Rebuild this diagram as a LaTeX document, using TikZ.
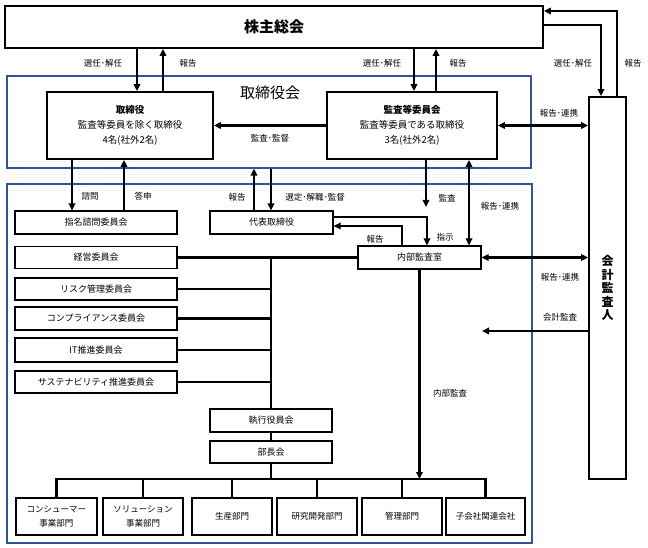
\documentclass[tikz,border=0pt]{standalone}
\usepackage{fontspec}
\setmainfont{Noto Sans CJK JP}
\usepackage{xcolor}
\usetikzlibrary{arrows.meta}
\definecolor{frameblue}{RGB}{47,85,151}

\begin{document}
\begin{tikzpicture}[x=1pt, y=-1pt,
    box/.style={draw, fill=white, line width=1.1pt, inner sep=0pt, align=center, font=\fontsize{9}{11}\selectfont},
    mainbox/.style={box, line width=1.8pt},
    dept/.style={box, minimum width=80pt, minimum height=37pt, font=\fontsize{8.5}{14}\selectfont},
    frame/.style={draw=frameblue, line width=1.2pt, inner sep=0pt},
    lbl/.style={font=\fontsize{8.5}{10}\selectfont, inner sep=1pt},
    arr/.style={line width=2.2pt, -{Triangle[length=7pt,width=6.5pt]}},
    dbl/.style={line width=2.2pt, {Triangle[length=7pt,width=6.5pt]}-{Triangle[length=7pt,width=6.5pt]}},
    wire/.style={line width=2.2pt}
]
    \useasboundingbox (0,0) rectangle (648,548);

    % Blue frames
    \node[frame, minimum width=524pt, minimum height=92pt] (board) at (269,122) {};
    \node[font=\fontsize{15}{18}\selectfont] (boardtitle) at (270,93) {取締役会};
    \node[frame, minimum width=525pt, minimum height=359pt] (exec) at (269.5,363.5) {};

    % Shareholders meeting
    \node[mainbox, minimum width=538pt, minimum height=42pt, font=\bfseries\fontsize{15}{18}\selectfont] (kabu) at (274,27) {株主総会};

    % Directors
    \node[mainbox, minimum width=166pt, minimum height=67pt, font=\fontsize{9.5}{15}\selectfont] (tori) at (130,125.5) {\textbf{取締役}\\監査等委員を除く取締役\\4名(社外2名)};

    % Audit committee
    \node[mainbox, minimum width=170pt, minimum height=67pt, font=\fontsize{9.5}{15}\selectfont] (kansa) at (412,125.5) {\textbf{監査等委員会}\\監査等委員である取締役\\3名(社外2名)};

    % Accounting auditor
    \node[mainbox, minimum width=37pt, minimum height=382pt, font=\bfseries\fontsize{12}{13.5}\selectfont] (kaikei) at (607.5,288) {会\\計\\監\\査\\人};

    % Committees
    \node[box, minimum width=162pt, minimum height=23pt] (shimei) at (96,222.5) {指名諮問委員会};
    \node[box, minimum width=162pt, minimum height=22pt] (keiei) at (96,257.5) {経営委員会};
    \node[box, minimum width=162pt, minimum height=22pt] (risk) at (96,289) {リスク管理委員会};
    \node[box, minimum width=162pt, minimum height=23pt] (comp) at (96,318.5) {コンプライアンス委員会};
    \node[box, minimum width=162pt, minimum height=24pt] (itc) at (96,350) {IT推進委員会};
    \node[box, minimum width=162pt, minimum height=22pt] (sust) at (96,382) {サステナビリティ推進委員会};

    % Representative director and internal audit
    \node[box, minimum width=123pt, minimum height=23pt] (daihyo) at (271.5,222.5) {代表取締役};
    \node[box, minimum width=123pt, minimum height=23pt] (naibu) at (419.5,257.5) {内部監査室};

    % Executive officers
    \node[box, minimum width=122pt, minimum height=23pt] (shikko) at (271,420.5) {執行役員会};
    \node[box, minimum width=122pt, minimum height=22pt] (bucho) at (271,452) {部長会};

    % Divisions
    \node[dept, minimum width=81pt] (cons) at (56.5,516.5) {コンシューマー\\事業部門};
    \node[dept] (solu) at (143,516.5) {ソリューション\\事業部門};
    \node[dept] (prod) at (232,516.5) {生産部門};
    \node[dept] (rnd) at (317,516.5) {研究開発部門};
    \node[dept] (kanri) at (402,516.5) {管理部門};
    \node[dept, minimum width=79pt] (subs) at (485.5,516.5) {子会社関連会社};

    \coordinate (bus) at (271,479);
    \coordinate (auditend) at (426,207);
    \coordinate (acctend) at (482,331);

    % Shareholders <-> board
    \draw[arr] ([xshift=7pt]tori.north |- kabu.south) -- ([xshift=7pt]tori.north);
    \draw[arr] ([xshift=33pt]tori.north) -- ([xshift=33pt]tori.north |- kabu.south);
    \draw[arr] ([xshift=2pt]kansa.north |- kabu.south) -- ([xshift=2pt]kansa.north);
    \draw[arr] ([xshift=24pt]kansa.north) -- ([xshift=24pt]kansa.north |- kabu.south);
    \draw[arr] ([xshift=9.5pt]kaikei.north) |- ([yshift=16pt]kabu.east);
    \draw[arr] ([yshift=2pt]kabu.east) -| ([xshift=-6.5pt]kaikei.north);
    \node[lbl] (l1) at (103,63) {選任･解任};
    \node[lbl] (l2) at (188,63) {報告};
    \node[lbl] (l3) at (382,63) {選任･解任};
    \node[lbl] (l4) at (458,63) {報告};
    \node[lbl] (l5) at (573,63) {選任･解任};
    \node[lbl] (l6) at (633,63) {報告};

    % Inside the board
    \draw[arr] (kansa.west) -- (tori.east);
    \draw[dbl] (kansa.east) -- (kansa.east -| kaikei.west);
    \node[lbl] (l7) at (270,138) {監査･監督};
    \node[lbl] (l8) at (559,113) {報告･連携};

    % Board -> execution
    \draw[arr] ([xshift=-58pt]tori.south) -- ([xshift=-58pt]tori.south |- shimei.north);
    \draw[arr] ([xshift=-6pt]tori.south |- shimei.north) -- ([xshift=-6pt]tori.south);
    \draw[arr] ([xshift=-17.5pt]daihyo.north) -- ([xshift=-17.5pt]daihyo.north |- board.south);
    \draw[arr] ([xshift=-0.5pt]daihyo.north |- board.south) -- ([xshift=-0.5pt]daihyo.north);
    \node[lbl] (l9) at (90,196) {諮問};
    \node[lbl] (l10) at (143,196) {答申};
    \node[lbl] (l11) at (237,197) {報告};
    \node[lbl] (l12) at (315,197) {選定･解職･監督};

    % Audit lines
    \draw[arr] (kansa.south -| auditend) -- (auditend);
    \draw[arr] ([yshift=5.5pt]daihyo.east) -| ([xshift=7.5pt]naibu.north);
    \draw[arr] ([xshift=-17.5pt]naibu.north) |- ([yshift=-3.5pt]daihyo.east);
    \draw[dbl] ([xshift=57pt]kansa.south) -- ([xshift=57pt]kansa.south |- naibu.north);
    \draw[dbl] (naibu.east) -- (naibu.east -| kaikei.west);
    \draw[arr] (kaikei.west |- acctend) -- (acctend);
    \node[lbl] (l13) at (447,198) {監査};
    \node[lbl] (l14) at (500,206) {報告･連携};
    \node[lbl] (l15) at (445,237) {指示};
    \node[lbl] (l16) at (375,239) {報告};
    \node[lbl] (l17) at (560,277) {報告･連携};
    \node[lbl] (l18) at (560,317) {会計監査};
    \node[lbl] (l19) at (450,393) {内部監査};

    % Committee trunk
    \draw[wire] (keiei.east) -- (naibu.west);
    \draw[wire] (keiei.east -| shikko.north) -- (shikko.north);
    \draw[wire] (risk.east) -- (risk.east -| shikko.north);
    \draw[wire] (comp.east) -- (comp.east -| shikko.north);
    \draw[wire] (itc.east) -- (itc.east -| shikko.north);
    \draw[wire] (sust.east) -- (sust.east -| shikko.north);
    \draw[wire] (shikko.south) -- (bucho.north);
    \draw[wire] (bucho.south) -- (bus);

    % Division bus
    \draw[wire] (cons.north) |- (bus) -| (subs.north);
    \draw[wire] (solu.north) -- (solu.north |- bus);
    \draw[wire] (prod.north) -- (prod.north |- bus);
    \draw[wire] (rnd.north) -- (rnd.north |- bus);
    \draw[wire] (kanri.north) -- (kanri.north |- bus);
    \draw[arr] (naibu.south) -- (naibu.south |- bus);
\end{tikzpicture}
\end{document}
